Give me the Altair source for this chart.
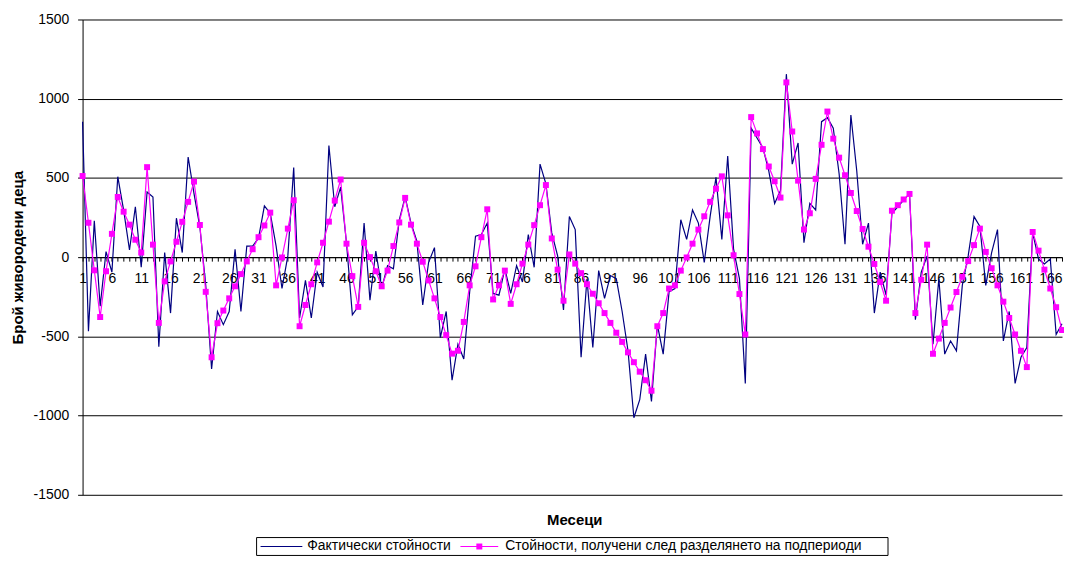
import altair as alt
import pandas as pd

months = list(range(1, 169))

actual = [
    855, -467, 229, -310, 35, -95, 508, 297, 45, 318,
    -64, 411, 380, -566, 29, -353, 246, 29, 632, 401,
    190, -178, -705, -343, -426, -343, 50, -343, 70, 70,
    120, 324, 277, 70, -198, 8, 566, -384, -147, -384,
    -95, -188, 705, 318, 442, 90, -364, -312, 215, -271,
    39, -198, -54, -74, 236, 380, 215, 101, -302, -33,
    60, -508, -343, -777, -550, -643, -219, 132, 143, 215,
    -229, -240, -74, -229, -54, -157, 143, -64, 587, 463,
    153, 8, -333, 256, 174, -632, -136, -570, -85, -260,
    -116, -136, -343, -591, -1014, -900, -612, -911, -426, -612,
    -219, -198, 236, 112, 298, 215, -33, 256, 504, 112,
    638, 50, -136, -797, 814, 752, 690, 545, 339, 421,
    1155, 587, 721, 91, 339, 298, 855, 880, 814, 525,
    81, 897, 545, 81, 215, -353, -95, -240, 277, 318,
    360, 401, -395, -95, 8, -550, -136, -612, -529, -591,
    -178, 8, 256, 194, -178, 29, 174, -529, -343, -797,
    -632, -570, 153, -12, -43, -12, -488, -420,
]

smoothed = [
    512, 217, -83, -378, -89, 147, 380, 287, 205, 110,
    29, 568, 79, -415, -153, -27, 97, 223, 349, 477,
    203, -219, -632, -417, -337, -260, -184, -107, -27, 50,
    126, 200, 281, -178, -2, 180, 359, -436, -302, -171,
    -33, 91, 224, 357, 490, 85, -120, -314, 91, 0,
    -89, -184, -85, 70, 219, 374, 205, 85, -29, -147,
    -260, -378, -492, -609, -591, -409, -178, -58, 126, 302,
    -267, -178, -85, -295, -171, -41, 79, 202, 328, 455,
    118, -79, -275, 17, -41, -101, -171, -231, -291, -353,
    -415, -477, -535, -601, -663, -723, -777, -843, -436, -353,
    -198, -178, -85, -2, 85, 174, 258, 349, 432, 510,
    264, 12, -233, -488, 884, 781, 682, 572, 479, 376,
    1103, 793, 483, 174, 277, 494, 709, 919, 748, 628,
    517, 405, 291, 178, 66, -43, -157, -275, 293, 328,
    364, 399, -353, -143, 79, -610, -514, -415, -318, -220,
    -124, -25, 76, 180, 33, -70, -178, -281, -384, -488,
    -591, -694, 159, 41, -79, -198, -316, -460,
]

y_ticks = [-1500, -1000, -500, 0, 500, 1000, 1500]
series_names = ["Фактически стойности", "Стойности, получени след разделянето на подпериоди"]
x_title = "Месеци"
y_title = "Брой живородени деца"

FONT = "Liberation Sans"
W, H = 985, 478

df = pd.DataFrame({"month": months, "actual": actual, "smoothed": smoothed})

x_enc = alt.X(
    "month:Q",
    title="",
    scale=alt.Scale(domain=[1, 168], nice=False, zero=False),
    axis=alt.Axis(
        values=months,
        labelExpr="(datum.value - 1) % 5 == 0 ? datum.label : ''",
        labelOverlap=False,
        labelFlush=False,
        grid=False,
        offset=-H / 2,
        tickSize=4,
        tickColor="#000000",
        domainColor="#000000",
        labelColor="#000000",
        labelFont=FONT,
        labelFontSize=14,
        labelPadding=10,
    ),
)

y_axis = alt.Axis(
    values=y_ticks,
    labelExpr="'' + datum.value",
    grid=True,
    gridColor="#000000",
    gridOpacity=1,
    gridWidth=1,
    domainColor="#000000",
    tickColor="#000000",
    tickSize=5,
    labelPadding=9,
    labelFont=FONT,
    labelFontSize=14,
    labelColor="#000000",
    title=y_title,
    titleFont=FONT,
    titleFontSize=15,
    titleFontWeight="bold",
    titleColor="#000000",
    titleAngle=270,
    titleX=-65,
    titleY=H / 2,
    titleAlign="center",
    titleBaseline="middle",
)

y_scale = alt.Scale(domain=[-1500, 1500], nice=False)

base = alt.Chart(df)

blue = base.mark_line(color="#000080", strokeWidth=1.2).encode(
    x=x_enc,
    y=alt.Y("actual:Q", scale=y_scale, axis=y_axis),
)

pink_line = base.mark_line(color="#FF00FF", strokeWidth=1.2).encode(
    x=x_enc,
    y=alt.Y("smoothed:Q", scale=y_scale, axis=y_axis),
)

pink_pts = base.mark_square(color="#FF00FF", size=36, opacity=1, filled=True).encode(
    x=x_enc,
    y=alt.Y("smoothed:Q", scale=y_scale, axis=y_axis),
)

one = alt.Chart(pd.DataFrame({"k": [0]}))

xtitle = one.mark_text(
    text=x_title, font=FONT, fontSize=15, fontWeight="bold", color="#000000",
    align="center", baseline="middle",
).encode(x=alt.value(495), y=alt.value(503))

leg_box = one.mark_rect(fill="#FFFFFF", stroke="#000000", strokeWidth=1).encode(
    x=alt.value(175), x2=alt.value(810), y=alt.value(521), y2=alt.value(539)
)
leg_blue = one.mark_rule(color="#000080", strokeWidth=1.2).encode(
    x=alt.value(179), x2=alt.value(221), y=alt.value(530)
)
leg_t1 = one.mark_text(
    text=series_names[0], font=FONT, fontSize=14, color="#000000", align="left", baseline="middle"
).encode(x=alt.value(226), y=alt.value(530))
leg_pink = one.mark_rule(color="#FF00FF", strokeWidth=1.2).encode(
    x=alt.value(380), x2=alt.value(418), y=alt.value(530)
)
leg_sq = one.mark_square(color="#FF00FF", size=36, opacity=1, filled=True).encode(
    x=alt.value(399), y=alt.value(530)
)
leg_t2 = one.mark_text(
    text=series_names[1], font=FONT, fontSize=14, color="#000000", align="left", baseline="middle"
).encode(x=alt.value(425), y=alt.value(530))

chart = alt.layer(
    blue, pink_line, pink_pts, xtitle, leg_box, leg_blue, leg_t1, leg_pink, leg_sq, leg_t2
).properties(
    width=W,
    height=H,
    autosize=alt.AutoSizeParams(type="none"),
    padding={"left": 75, "top": 10, "right": 2, "bottom": 62},
    background="#FFFFFF",
).configure_view(strokeOpacity=0)

chart.save("out.html", embed_options={"renderer": "svg", "actions": False})
